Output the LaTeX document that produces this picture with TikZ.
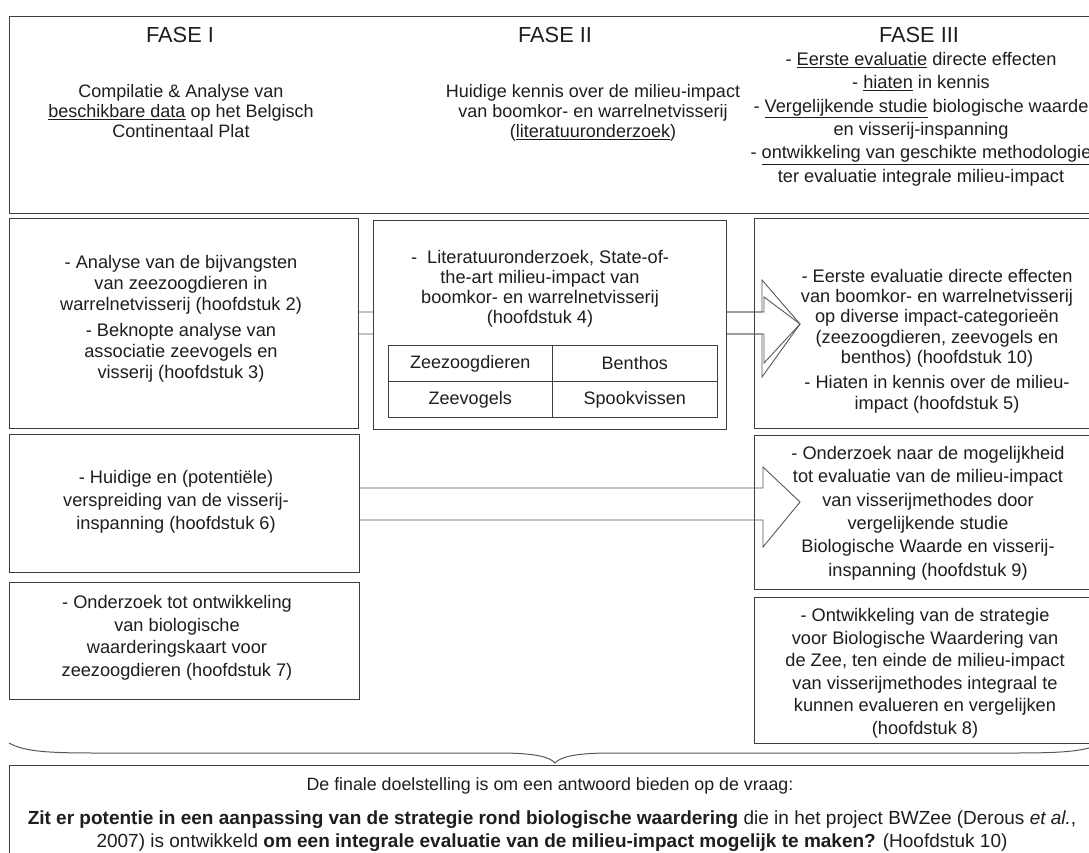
\documentclass[tikz,border=0pt]{standalone}
\usepackage{fontspec}
\setmainfont{Liberation Sans}
\newcommand\tsize[2]{\fontsize{#1}{#2}\selectfont}
\definecolor{boxgray}{RGB}{62,62,62}
\definecolor{arrowgray}{RGB}{88,88,88}
\definecolor{textgray}{RGB}{30,30,30}
\tikzset{
    box/.style = {draw = boxgray, line width = 1.2pt, inner sep = 0pt, anchor = north west},
    txt/.style = {align = center, inner sep = 0pt, text = textgray, anchor = north},
    cell/.style = {draw = boxgray, line width = 1pt, fill = white, inner sep = 0pt,
        minimum width = 164.5, minimum height = 36, text = textgray, font = \tsize{18}{20}},
    blockarrow/.style = {draw = arrowgray, line width = 0.9pt, line join = miter}
}

\begin{document}
\begin{tikzpicture}[x = 1pt, y = -1pt]
    \useasboundingbox (0,0) rectangle (1089,852);
    \fill[white] (0,0) rectangle (1089,852);
    \clip (0,0) rectangle (1089,852);

    \node [box, minimum width = 1092, minimum height = 197] (top) at (9,16) {};
    \node [box, minimum width = 349, minimum height = 210] (lb1) at (9,218) {};
    \node [box, minimum width = 347, minimum height = 210] (rb1) at (754,218) {};
    \node [box, minimum width = 350, minimum height = 138] (lb2) at (9,434) {};
    \node [box, minimum width = 347, minimum height = 154] (rb2) at (754,435) {};
    \node [box, minimum width = 350, minimum height = 117] (lb3) at (9,582) {};
    \node [box, minimum width = 347, minimum height = 146] (rb3) at (754,597) {};
    \node [box, minimum width = 1092, minimum height = 95] (goal) at (9,765) {};

    \draw [blockarrow] (lb1.east |- 0,312) -- (762,312) -- (762,280) -- (800,324)
        -- (762,377) -- (762,334) -- (lb1.east |- 0,334);
    \draw [blockarrow] (lb2.east |- 0,488) -- (763,488) -- (763,467) -- (800,502)
        -- (763,547) -- (763,520) -- (lb2.east |- 0,520);

    \node [box, fill = white, minimum width = 353, minimum height = 209] (mb) at (373,220) {};
    \draw [blockarrow] (mb.east |- 0,312) -- (764,312) -- (764,297) -- (800,324)
        -- (764,363) -- (764,334) -- (mb.east |- 0,334);

    \node [cell] (zz) at (470.25,363.5) {Zeezoogdieren};
    \node [cell] (be) at (634.75,363.5) {Benthos};
    \node [cell] (zv) at (470.25,399.5) {Zeevogels};
    \node [cell] (sp) at (634.75,399.5) {Spookvissen};

    \node [txt, anchor = base, font = \tsize{21.8}{24}] (f1) at (180,42) {FASE I};
    \node [txt, anchor = base, font = \tsize{21.8}{24}] (f2) at (555,42) {FASE II};
    \node [txt, anchor = base, font = \tsize{21.8}{24}] (f3) at (919,42) {FASE III};
    \node [txt, font = \tsize{18}{20.3}] (f1t) at (181,84)
        {Compilatie \& Analyse van\\\underline{beschikbare data} op het Belgisch\\Continentaal Plat};
    \node [txt, font = \tsize{18}{20.3}] (f2t) at (593,84)
        {Huidige kennis over de milieu-impact\\van boomkor- en warrelnetvisserij\\(\underline{literatuuronderzoek})};
    \node [txt, font = \tsize{18.2}{23.4}] (f3t) at (921,52)
        {- \underline{Eerste evaluatie} directe effecten\\- \underline{hiaten} in kennis\\
         - \underline{Vergelijkende studie} biologische waarde\\en visserij-inspanning\\
         - \underline{ontwikkeling van geschikte methodologie}\\ter evaluatie integrale milieu-impact};

    \node [txt, font = \tsize{18.2}{21}] (lb1t) at (181,255)
        {- Analyse van de bijvangsten\\van zeezoogdieren in\\warrelnetvisserij (hoofdstuk 2)\\[5pt]
         - Beknopte analyse van\\associatie zeevogels en\\visserij (hoofdstuk 3)};
    \node [txt, font = \tsize{18.2}{20}] (mbt) at (540,250)
        {- \ Literatuuronderzoek, State-of-\\the-art milieu-impact van\\boomkor- en warrelnetvisserij\\(hoofdstuk 4)};
    \node [txt, font = \tsize{18.2}{20.3}] (rb1t) at (937,269)
        {- Eerste evaluatie directe effecten\\van boomkor- en warrelnetvisserij\\op diverse impact-categorieën\\
         (zeezoogdieren, zeevogels en\\benthos) (hoofdstuk 10)\\[5pt]- Hiaten in kennis over de milieu-\\impact (hoofdstuk 5)};

    \node [txt, font = \tsize{18.2}{23}] (lb2t) at (176,470)
        {- Huidige en (potentiële)\\verspreiding van de visserij-\\inspanning (hoofdstuk 6)};
    \node [txt, font = \tsize{18.2}{22.7}] (lb3t) at (177,595)
        {- Onderzoek tot ontwikkeling\\van biologische\\waarderingskaart voor\\zeezoogdieren (hoofdstuk 7)};
    \node [txt, font = \tsize{18.2}{23.4}] (rb2t) at (928,446)
        {- Onderzoek naar de mogelijkheid\\tot evaluatie van de milieu-impact\\van visserijmethodes door\\
         vergelijkende studie\\Biologische Waarde en visserij-\\inspanning (hoofdstuk 9)};
    \node [txt, font = \tsize{18.2}{22.6}] (rb3t) at (925,608)
        {- Ontwikkeling van de strategie\\voor Biologische Waardering van\\de Zee, ten einde de milieu-impact\\
         van visserijmethodes integraal te\\kunnen evalueren en vergelijken\\(hoofdstuk 8)};

    \draw [draw = arrowgray, line width = 1pt] (lb3.south west |- 0,743)
        .. controls (25,752) and (50,753) .. (100,753) -- (500,753)
        .. controls (535,753) and (550,757) .. (555,763)
        .. controls (560,757) and (575,753) .. (610,753) -- (1010,753)
        .. controls (1060,753) and (1085,752) .. (rb3.south east |- 0,743);

    \node [txt, anchor = base, font = \tsize{17.8}{20}] (goal1) at (550,790)
        {De finale doelstelling is om een antwoord bieden op de vraag:};
    \node [txt, font = \tsize{19}{23}] (goal2) at (552,811)
        {\textbf{Zit er potentie in een aanpassing van de strategie rond biologische waardering} die in het project BWZee (Derous \textit{et al.},\\
         2007) is ontwikkeld \textbf{om een integrale evaluatie van de milieu-impact mogelijk te maken?} (Hoofdstuk 10)};
\end{tikzpicture}
\end{document}
